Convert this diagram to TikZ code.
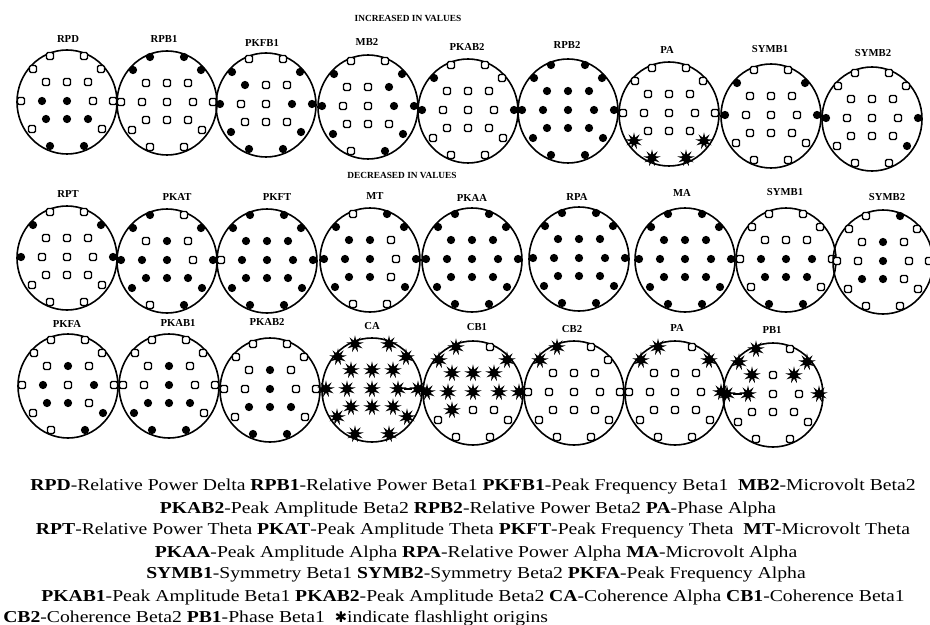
\documentclass[tikz,border=0pt]{standalone}
\usepackage{fontspec}
\setmainfont{Liberation Serif}
\newfontfamily\legfont{Liberation Serif}[FakeStretch=1.18]
\newfontfamily\symfont{DejaVu Sans}
\usetikzlibrary{shapes.geometric}

% electrode offsets (Fp1 Fp2 F7 F3 Fz F4 F8 T3 C3 Cz C4 T4 T5 P3 Pz P4 T6 O1 O2)
\def\elx{{-17,17,-34,-21,0,21,34,-46,-25,0,26,46,-35,-21,0,21,35,-17,17}}
\def\ely{{-46,-46,-33,-20,-20,-20,-33,-1,-1,-1,-1,-1,27,17,17,17,27,44,44}}

\tikzset{
  headline/.style={line width=1.2pt},
  headlabel/.style={font=\bfseries\fontsize{8}{9}\selectfont,inner sep=0pt},
  titlelabel/.style={font=\bfseries\fontsize{7}{8}\selectfont,inner sep=0pt},
  legend/.style={font=\legfont\fontsize{12.5}{15}\selectfont,inner sep=0pt},
  mkf/.style={circle,fill=black,inner sep=0pt,minimum size=6.2pt},
  mko/.style={rectangle,rounded corners=1pt,draw=black,line width=1pt,fill=white,inner sep=0pt,minimum size=5.2pt},
  mks/.style={star,star points=9,star point ratio=2.4,fill=black,inner sep=0pt,minimum size=13pt}
}

% name, cx, cy, label x, label y, label, markers
\newcommand{\headmap}[7]{%
  \node[headlabel] (#1-lab) at (#4,#5) {#6};
  \draw[headline] (#2,#3) ellipse (50 and 52);
  \foreach \m [count=\i from 0] in {#7}{
    \pgfmathsetmacro\ex{\elx[\i]}
    \pgfmathsetmacro\ey{\ely[\i]}
    \node[mk\m] (#1-\i) at ({#2+\ex},{#3+\ey}) {};
  }
}

\begin{document}
\begin{tikzpicture}[x=0.75pt,y=-0.75pt]
  \useasboundingbox (0,0) rectangle (930,624);

  \node[titlelabel] (inc) at (408,18) {INCREASED IN VALUES};
  \node[titlelabel] (dec) at (402,175) {DECREASED IN VALUES};

  % row 1
  \headmap{r1-rpd}{67}{102}{68}{39}{RPD}{o,o,o,o,o,o,o,o,f,f,o,o,o,f,f,f,o,f,f}
  \headmap{r1-rpb1}{167}{103}{164}{39}{RPB1}{f,f,f,o,o,o,f,o,o,o,o,o,o,o,o,o,o,o,o}
  \headmap{r1-pkfb1}{266}{105}{262}{43}{PKFB1}{o,o,f,f,o,o,f,f,o,o,f,f,f,o,o,o,f,f,f}
  \headmap{r1-mb2}{368}{107}{367}{42}{MB2}{o,o,f,o,o,f,f,f,o,o,f,f,f,o,o,o,f,o,f}
  \headmap{r1-pkab2}{468}{111}{467}{47}{PKAB2}{o,o,f,o,o,o,o,f,o,o,o,f,o,o,o,o,o,o,o}
  \headmap{r1-rpb2}{568}{111}{567}{45}{RPB2}{f,f,f,f,f,f,f,f,f,f,f,f,f,f,f,f,f,f,f}
  \headmap{r1-pa}{669}{114}{667}{50}{PA}{o,o,o,o,o,o,o,o,o,o,o,o,s,o,o,o,s,s,s}
  \headmap{r1-symb1}{771}{116}{770}{49}{SYMB1}{o,o,f,o,o,o,f,f,o,o,o,f,o,o,o,o,o,o,o}
  \headmap{r1-symb2}{872}{119}{873}{53}{SYMB2}{o,o,o,o,o,o,o,f,o,o,o,f,o,o,o,o,f,o,o}

  % row 2
  \headmap{r2-rpt}{67}{258}{68}{194}{RPT}{o,o,f,o,o,o,f,f,o,o,o,f,o,o,o,o,o,o,o}
  \headmap{r2-pkat}{167}{261}{177}{197}{PKAT}{f,o,f,o,f,o,f,f,f,f,o,f,f,f,f,f,f,o,f}
  \headmap{r2-pkft}{267}{261}{277}{197}{PKFT}{f,f,f,f,f,f,f,o,f,f,f,f,f,f,f,f,f,f,f}
  \headmap{r2-mt}{370}{260}{375}{196}{MT}{o,f,f,f,f,o,f,f,f,f,o,f,f,f,f,o,f,o,o}
  \headmap{r2-pkaa}{472}{260}{472}{198}{PKAA}{f,f,f,f,f,f,f,f,f,f,f,f,f,f,f,f,f,f,f}
  \headmap{r2-rpa}{579}{259}{577}{197}{RPA}{f,f,f,f,f,f,f,f,f,f,f,f,f,f,f,f,f,f,f}
  \headmap{r2-ma}{685}{260}{682}{193}{MA}{f,f,f,f,f,f,f,f,f,f,f,f,f,f,f,f,f,f,f}
  \headmap{r2-symb1}{786}{260}{785}{192}{SYMB1}{o,o,o,o,o,o,o,o,f,f,f,o,o,f,f,f,o,f,f}
  \headmap{r2-symb2}{883}{262}{887}{197}{SYMB2}{o,f,o,o,f,o,o,o,o,f,o,o,o,f,f,o,o,o,o}

  % row 3
  \headmap{r3-pkfa}{68}{386}{67}{324}{PKFA}{o,o,o,o,f,o,o,o,f,o,f,o,o,f,f,o,f,o,f}
  \headmap{r3-pkab1}{169}{386}{178}{323}{PKAB1}{o,o,o,o,f,o,o,o,o,f,o,o,f,f,f,f,o,f,f}
  \headmap{r3-pkab2}{270}{390}{267}{322}{PKAB2}{o,o,o,o,f,o,o,o,o,f,o,o,o,f,f,f,o,f,f}
  \headmap{r3-ca}{372}{390}{372}{326}{CA}{s,s,s,s,s,s,s,s,s,s,s,s,s,s,s,s,s,s,s}
  \headmap{r3-cb1}{473}{393}{477}{327}{CB1}{s,o,s,s,s,s,s,s,s,s,s,s,o,s,o,o,o,o,o}
  \headmap{r3-cb2}{574}{393}{572}{329}{CB2}{s,o,s,o,o,o,o,o,o,o,o,o,o,o,o,o,o,o,o}
  \headmap{r3-pa}{675}{393}{677}{328}{PA}{s,o,s,o,o,o,s,o,o,o,o,s,o,o,o,o,o,o,o}
  \headmap{r3-pb1}{773}{395}{772}{330}{PB1}{s,o,s,s,o,s,s,s,s,o,o,s,o,o,o,o,o,o,o}
  \draw[line width=0.9pt] (r3-ca-10) -- (r3-ca-11);
  \draw[line width=0.9pt] (r3-pb1-7) -- (r3-pb1-8);

  % legend
  \node[legend] (leg1) at (473,487) {\textbf{RPD}-Relative Power Delta \textbf{RPB1}-Relative Power Beta1 \textbf{PKFB1}-Peak Frequency Beta1\ \ \textbf{MB2}-Microvolt Beta2};
  \node[legend] (leg2) at (468,509) {\textbf{PKAB2}-Peak Amplitude Beta2 \textbf{RPB2}-Relative Power Beta2 \textbf{PA}-Phase Alpha};
  \node[legend] (leg3) at (473,531) {\textbf{RPT}-Relative Power Theta \textbf{PKAT}-Peak Amplitude Theta \textbf{PKFT}-Peak Frequency Theta\ \ \textbf{MT}-Microvolt Theta};
  \node[legend] (leg4) at (476,553) {\textbf{PKAA}-Peak Amplitude Alpha \textbf{RPA}-Relative Power Alpha \textbf{MA}-Microvolt Alpha};
  \node[legend] (leg5) at (476,575) {\textbf{SYMB1}-Symmetry Beta1 \textbf{SYMB2}-Symmetry Beta2 \textbf{PKFA}-Peak Frequency Alpha};
  \node[legend] (leg6) at (473,597) {\textbf{PKAB1}-Peak Amplitude Beta1 \textbf{PKAB2}-Peak Amplitude Beta2 \textbf{CA}-Coherence Alpha \textbf{CB1}-Coherence Beta1};
  \node[legend,anchor=west] (leg7) at (3,618) {\textbf{CB2}-Coherence Beta2 \textbf{PB1}-Phase Beta1\ \ {\symfont\fontsize{11}{12}\selectfont ✱}indicate flashlight origins};
\end{tikzpicture}
\end{document}
